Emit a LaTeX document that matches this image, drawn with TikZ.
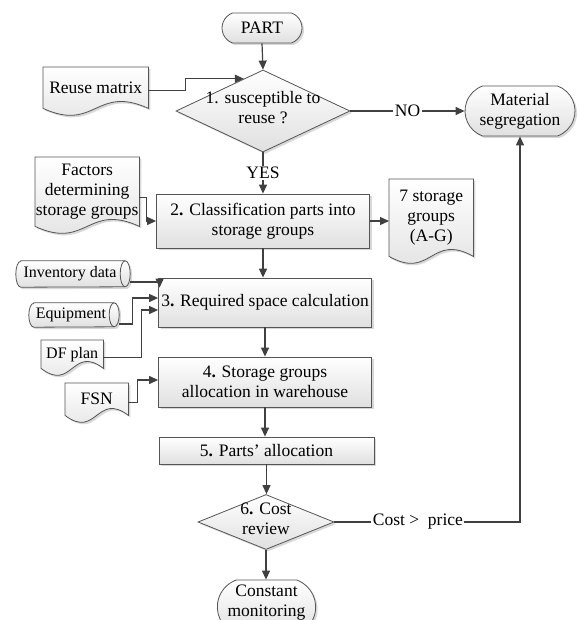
\documentclass[tikz,border=0pt]{standalone}
\usepackage{fontspec}
\setmainfont{Liberation Serif}
\usetikzlibrary{arrows.meta,shapes.geometric,shapes.misc,shadows,calc}
\definecolor{linecol}{HTML}{404040}
\definecolor{bordercol}{HTML}{555555}
\definecolor{fillbot}{HTML}{E0E0E0}
\tikzset{
  txt/.style={font=\fontsize{17.5}{20}\selectfont, align=center, inner sep=0pt},
  smalltxt/.style={txt, font=\fontsize{16}{19}\selectfont},
  base/.style={draw=bordercol, line width=0.8pt, top color=white, bottom color=fillbot,
    drop shadow={shadow xshift=2pt, shadow yshift=-2pt, fill=black!30, opacity=0.5}},
  procbox/.style={base, txt, rectangle},
  termbox/.style={base, txt, rounded rectangle, rounded rectangle arc length=140},
  decbox/.style={base, diamond, inner sep=0pt},
  conn/.style={draw=linecol, line width=1.2pt, -{Triangle[length=9pt,width=8pt]}},
  lbl/.style={txt, fill=white, inner sep=1.5pt},
}
\newcommand{\docshape}[7]{%
  \node[inner sep=0pt, minimum width=#4pt, minimum height=#5pt, anchor=north west] (#1) at (#2,#3) {};
  \path[base] (#1.north west) -- (#1.north east) -- (#1.south east)
     .. controls ([yshift=24pt]#1.south) and ([yshift=-24pt]#1.south) .. (#1.south west) -- cycle;
  \node[#7] (#1-t) at (#1.center) {#6};
}
\newcommand{\cylshape}[6]{%
  \node[inner sep=0pt, minimum width=#4pt, minimum height=#5pt] (#1) at (#2,#3) {};
  \path[base] ([xshift=5pt]#1.north west) -- ([xshift=-5pt]#1.north east)
     arc[start angle=90, end angle=-90, x radius=5pt, y radius={0.5*#5pt}]
     -- ([xshift=5pt]#1.south west)
     arc[start angle=270, end angle=90, x radius=5pt, y radius={0.5*#5pt}] -- cycle;
  \draw[bordercol, line width=0.8pt] ([xshift=-5pt]#1.north east)
     arc[start angle=90, end angle=270, x radius=5pt, y radius={0.5*#5pt}];
  \node[smalltxt] (#1-t) at ([xshift=-3pt]#1.center) {#6};
}
\begin{document}
\begin{tikzpicture}[x=1pt,y=-1pt]
\clip (0,0) rectangle (577,620);
\fill[white] (0,0) rectangle (577,620);

% main flow
\node[termbox, minimum width=80pt, minimum height=30pt] (part) at (262,28) {PART};
\node[decbox, minimum width=174pt, minimum height=82pt] (d1) at (263,111) {};
\node[txt] (d1t) at (263,108) {1. susceptible to\\reuse ?};
\node[termbox, minimum width=110pt, minimum height=50pt] (mat) at (520,111) {Material\\segregation};
\node[procbox, minimum width=213pt, minimum height=54pt] (b2) at (263,221) {2\textbf{.} Classification parts into\\storage groups};
\node[procbox, minimum width=213pt, minimum height=49pt] (b3) at (265,302.5) {3\textbf{.} Required space calculation};
\node[procbox, minimum width=213pt, minimum height=50pt] (b4) at (265,382) {4\textbf{.} Storage groups\\allocation in warehouse};
\node[procbox, minimum width=215pt, minimum height=27pt] (b5) at (266.5,450.5) {5\textbf{.} Parts’ allocation};
\node[decbox, minimum width=136pt, minimum height=55pt] (d6) at (266,522) {};
\node[txt] (d6t) at (266,519) {6\textbf{.} Cost\\review};
\node[base, rounded rectangle, rounded rectangle arc length=140, minimum width=105pt, minimum height=54pt] (cm) at (266.5,607) {};
\node[txt] (cmt) at (266.5,603) {Constant\\monitoring};

% inputs
\docshape{reuse}{43}{67}{105}{41}{Reuse matrix}{txt}
\docshape{fac}{35}{157}{104}{69}{Factors\\determining\\storage groups}{txt}
\docshape{sg}{389}{179}{84}{77}{7 storage\\groups\\(A-G)}{txt}
\docshape{df}{41}{340}{62}{28}{DF plan}{smalltxt}
\docshape{fsn}{65}{383}{63}{32}{FSN}{txt}
\cylshape{inv}{73}{274}{114}{26}{Inventory data}
\cylshape{eq}{74}{315}{90}{24}{Equipment}

% connectors
\draw[conn] (part.south) -- (d1.north);
\draw[conn] ([yshift=-3pt]reuse.east) -- ++(37,0) |- ($(d1.north)!0.22!(d1.west)$);
\draw[conn] (d1.east) -- node[lbl] {NO} (mat.west);
\draw[conn] (d1.south) -- node[lbl] {YES} (d1.south |- b2.north);
\draw[conn] ([yshift=-5.5pt]fac.east) -- ++(7,0) |- (b2.west);
\draw[conn] (b2.east) -- (b2.east -| sg.west);
\draw[conn] (b2.south) -- (b2.south |- b3.north);
\draw[conn] ([yshift=-8pt]inv.east) -| ([xshift=1.5pt,yshift=-10pt]b3.north west);
\draw[conn] ([yshift=-9pt]eq.east) -- ++(13,0) |- ([yshift=4.5pt]b3.west);
\draw[conn] ([yshift=-3pt]df.east) -- ++(38,0) |- ([yshift=-7.5pt]b3.west);
\draw[conn] (b3.south) -- (b3.south |- b4.north);
\draw[conn] ([yshift=-3pt]fsn.east) -- ++(9,0) |- ([yshift=2pt]b4.west);
\draw[conn] (b4.south) -- (b4.south |- b5.north);
\draw[conn] (b5.south) -- (b5.south |- d6.north);
\draw[conn] (d6.south) -- (d6.south |- cm.north);
\draw[conn] (d6.east) -- node[lbl, pos=0.45] {Cost >~~price} (d6.east -| mat.south) -- (mat.south);
\end{tikzpicture}
\end{document}
